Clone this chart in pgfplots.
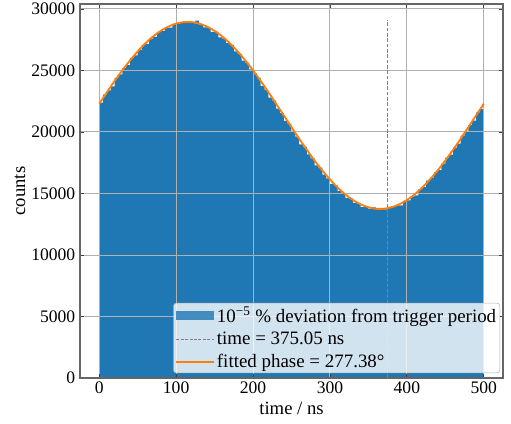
\documentclass[border=0pt]{standalone}
\usepackage{fontspec}
\setmainfont{Liberation Serif}
\usepackage{pgfplots}
\pgfplotsset{compat=1.18}
\definecolor{tabblue}{HTML}{1F77B4}
\definecolor{taborange}{HTML}{FF7F0E}
\definecolor{gridgray}{HTML}{B0B0B0}
\pgfplotsset{
  layers/mylayers/.define layer set={axis background,pre main,axis grid,axis ticks,axis lines,axis tick labels,main,axis descriptions,axis foreground}{},
}
\begin{document}
\begin{tikzpicture}
\begin{axis}[
  set layers=mylayers,
  scale only axis,
  width=317.25pt, height=280.5pt,
  xmin=-25, xmax=525, ymin=0, ymax=30400,
  xtick={0,100,200,300,400,500},
  ytick={0,5000,10000,15000,20000,25000,30000},
  scaled y ticks=false, scaled x ticks=false,
  /pgf/number format/1000 sep={},
  /pgf/number format/assume math mode=true,
  xticklabel={\pgfmathprintnumber{\tick}},
  yticklabel={\pgfmathprintnumber{\tick}},
  tick align=inside,
  xtick pos=both, ytick pos=both,
  major tick length=3pt,
  tick style={black!75, line width=0.6pt},
  axis line style={black!60, line width=0.8pt},
  grid=major,
  major grid style={gridgray, line width=0.7pt},
  tick label style={font=\fontsize{13.2}{15}\selectfont},
  xticklabel style={yshift=1pt},
  label style={font=\fontsize{14}{16}\selectfont},
  xlabel={time / ns},
  ylabel={counts},
  xlabel style={at={(axis description cs:0.5,-0.080)}, anchor=center},
  ylabel style={at={(axis description cs:-0.142,0.5)}, anchor=center},
  legend style={
    font=\fontsize{14.2}{16.4}\selectfont,
    at={(rel axis cs:0.993,0.013)}, anchor=south east,
    fill=white, fill opacity=0.8, text opacity=1,
    draw=gridgray, rounded corners=2pt,
    row sep=3.2pt, inner sep=1.5pt,
    nodes={inner sep=1.2pt},
  },
  legend cell align=left,
]
\addplot[const plot, fill=tabblue, draw=none, on layer=pre main,
  area legend,
  legend image code/.code={\fill[tabblue, sharp corners] (0cm,-0.11cm) rectangle (1.0cm,0.12cm);}]
coordinates {
(0,22380) (5,23030) (10,23380) (15,23710) (20,24400) (25,24670) (30,25180) (35,25430) (40,26020) (45,26220)
(50,26650) (55,27080) (60,27150) (65,27590) (70,27720) (75,28140) (80,28190) (85,28470) (90,28470) (95,28790)
(100,28770) (105,28880) (110,29000) (115,28850) (120,28950) (125,29050) (130,28720) (135,28490) (140,28460) (145,28140)
(150,28130) (155,27690) (160,27590) (165,27210) (170,27070) (175,26540) (180,26340) (185,25800) (190,25630) (195,25090)
(200,24760) (205,24400) (210,23730) (215,23410) (220,22800) (225,22550) (230,21900) (235,21540) (240,20900) (245,20660)
(250,20030) (255,19620) (260,19000) (265,18790) (270,18170) (275,17850) (280,17290) (285,17100) (290,16530) (295,16230)
(300,15770) (305,15660) (310,15190) (315,15010) (320,14650) (325,14590) (330,14240) (335,14130) (340,13890) (345,13960)
(350,13750) (355,13860) (360,13710) (365,13780) (370,13710) (375,13910) (380,13980) (385,14000) (390,14040) (395,14400)
(400,14430) (405,14770) (410,14850) (415,15350) (420,15510) (425,16050) (430,16280) (435,16720) (440,16890) (445,17430)
(450,17920) (455,18150) (460,18730) (465,19060) (470,19700) (475,20010) (480,20580) (485,20930) (490,21590) (495,21850)
(500,21850)
} \closedcycle;
\addlegendentry{10\textsuperscript{\char"2212 5} \% deviation from trigger period}
\addplot[gray, dash pattern=on 2.8pt off 1.2pt, line width=0.6pt,
  legend image code/.code={\draw[gray, sharp corners, dash pattern=on 2.2pt off 1.1pt, line width=0.6pt] (0cm,0cm) -- (1.0cm,0cm);}]
coordinates {(375.05,0) (375.05,29100)};
\addlegendentry{time = 375.05 ns}
\addplot[taborange, line width=1.4pt, smooth,
  legend image code/.code={\draw[taborange, sharp corners, line width=1.4pt] (0cm,0cm) -- (1.0cm,0cm);}]
coordinates {
(0,22292) (10,23230) (20,24138) (30,25002) (40,25807) (50,26542) (60,27196) (70,27757) (80,28216) (90,28568)
(100,28805) (110,28925) (120,28925) (130,28805) (140,28568) (150,28216) (160,27757) (170,27196) (180,26542) (190,25807)
(200,25002) (210,24138) (220,23230) (230,22292) (240,21340) (250,20388) (260,19450) (270,18542) (280,17678) (290,16873)
(300,16138) (310,15484) (320,14923) (330,14464) (340,14112) (350,13875) (360,13755) (370,13755) (380,13875) (390,14112)
(400,14464) (410,14923) (420,15484) (430,16138) (440,16873) (450,17678) (460,18542) (470,19450) (480,20388) (490,21340)
(500,22292)
};
\addlegendentry{fitted phase = 277.38°}
\end{axis}
\pgfresetboundingbox
\path ([shift={(-60pt,-33.75pt)}]current axis.south west) rectangle ([shift={(6pt,3pt)}]current axis.north east);
\end{tikzpicture}
\end{document}
